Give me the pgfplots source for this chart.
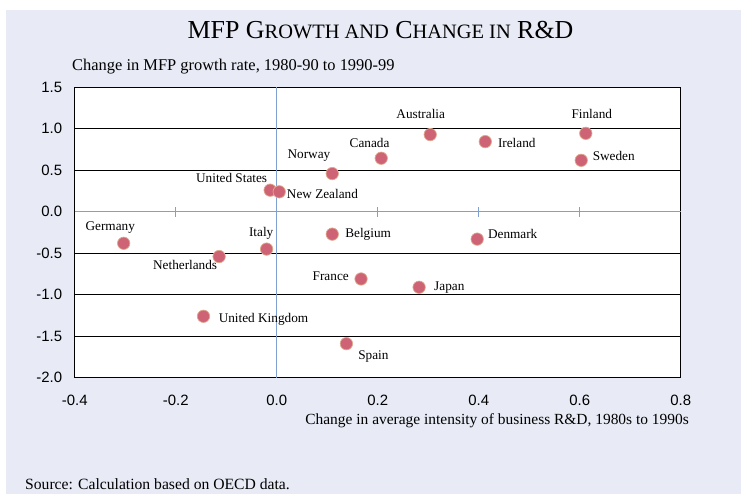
\documentclass[border=0pt]{standalone}
\usepackage{pgfplots}
\pgfplotsset{compat=1.18}
\usepackage{pgfplotstable}
\usepackage{fontspec}
\setmainfont{Liberation Serif}
\newfontfamily\arialfont{Liberation Sans}
\definecolor{bg}{RGB}{232,235,245}
\definecolor{axblue}{RGB}{128,160,210}
\definecolor{dotfill}{RGB}{206,99,118}
\definecolor{dotedge}{RGB}{222,168,140}

\pgfplotstableread[col sep=comma]{
x,y,name,dx,dy
-0.303,-0.38,Germany,-13.4,15.6
-0.114,-0.54,Netherlands,-34,-8.3
-0.020,-0.45,Italy,-5.4,15.6
-0.145,-1.26,United Kingdom,60,-2.7
-0.013,0.26,United States,-38.5,12.6
0.005,0.24,New Zealand,43.2,-2.6
0.110,0.46,Norway,-23.3,17.7
0.207,0.645,Canada,-11.7,15
0.304,0.93,Australia,-9.5,20.7
0.413,0.845,Ireland,31.5,-1
0.612,0.945,Finland,6,19
0.603,0.62,Sweden,32.5,4.3
0.110,-0.27,Belgium,35.9,0
0.397,-0.33,Denmark,35.5,5.3
0.167,-0.81,France,-30.3,3
0.282,-0.91,Japan,30.2,0
0.138,-1.59,Spain,27,-12.7
}\data

\newcommand{\smc}[1]{{\fontsize{20.5}{24}\selectfont #1}}

\begin{document}
\begin{tikzpicture}[x=1bp,y=1bp]
\path[use as bounding box] (0,0) rectangle (741,494);
\fill[white] (0,0) rectangle (741,494);
\fill[bg] (6,0) rectangle (741,484);
\node[anchor=base] at (380.5,455) {\fontsize{26}{30}\selectfont MFP G\smc{ROWTH AND} C\smc{HANGE IN} R\&D};
\node[anchor=base west, inner sep=0] at (72,423) {\fontsize{16.5}{19}\selectfont Change in MFP growth rate, 1980-90 to 1990-99};
\node[anchor=base east, inner sep=0] at (689,69) {\fontsize{15.5}{18}\selectfont Change in average intensity of business R\&D, 1980s to 1990s};
\node[anchor=base west, inner sep=0] at (25,4) {\fontsize{15.7}{18}\selectfont Source: Calculation based on OECD data.};
\begin{axis}[
  at={(74.7bp,116.3bp)}, anchor=south west,
  scale only axis, width=606bp, height=290.4bp,
  xmin=-0.4, xmax=0.8, ymin=-2, ymax=1.5,
  xtick={-0.4,-0.2,0,0.2,0.4,0.6,0.8},
  ytick={-2,-1.5,-1,-0.5,0.5,1,1.5},
  extra y ticks={0},
  extra y tick style={grid=none},
  major tick length=0,
  ymajorgrids,
  major grid style={black, line width=0.8bp},
  axis line style={black, line width=1.5bp},
  axis background/.style={fill=white},
  ticklabel style={font=\arialfont\fontsize{15}{18}\selectfont},
  /pgf/number format/assume math mode=true,
  /pgf/number format/.cd, fixed, fixed zerofill, precision=1,
  /pgfplots/.cd,
  xticklabel style={anchor=north, yshift=-14bp},
  yticklabel style={anchor=east, xshift=-9bp},
  clip=false,
]
\draw[axblue, line width=1.4bp] (axis cs:-0.4,0) -- (axis cs:0.8,0);
\draw[axblue, line width=1.4bp] (axis cs:0,-2) -- (axis cs:0,1.5);
\pgfplotsinvokeforeach{-0.2,0.2,0.4,0.6}{
  \draw[axblue, line width=1.2bp] (axis cs:#1,-0.06) -- (axis cs:#1,0.06);
}
\addplot[only marks, mark=*, mark size=6.2bp,
  mark options={fill=dotfill, draw=dotedge, line width=0.7bp},
  point meta=explicit symbolic,
  nodes near coords,
  visualization depends on={\thisrow{dx} \as \dx},
  visualization depends on={\thisrow{dy} \as \dy},
  every node near coord/.append style={anchor=center, xshift=\dx bp, yshift=\dy bp, text=black, font=\fontsize{13.3}{15}\selectfont, inner sep=0}
] table[x=x, y=y, meta=name] {\data};
\end{axis}
\end{tikzpicture}
\end{document}
